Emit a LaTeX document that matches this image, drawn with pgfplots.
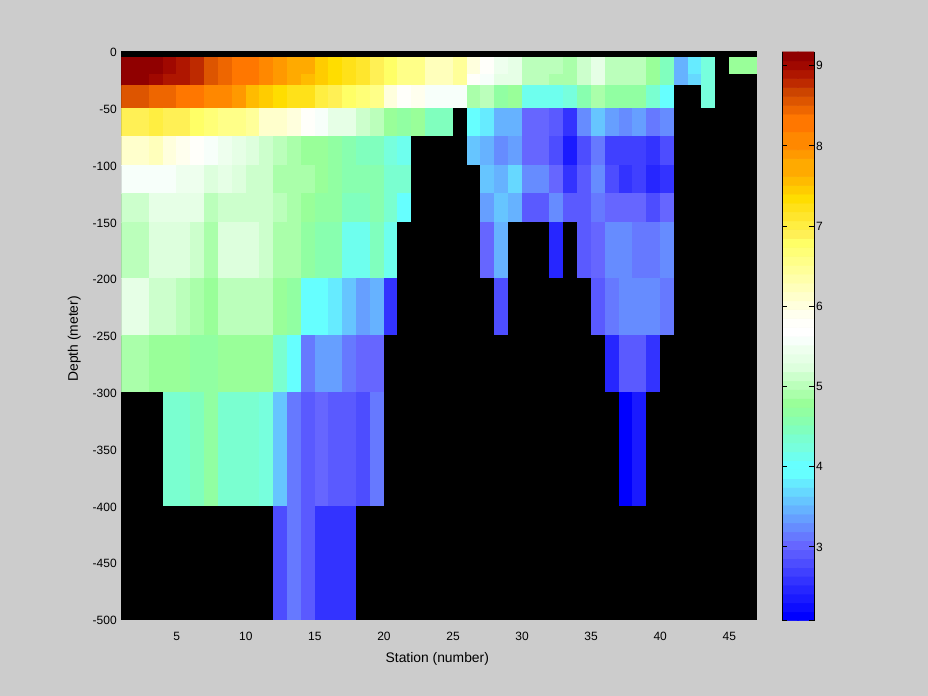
\documentclass[border=0pt]{standalone}
\usepackage{fontspec}
\setmainfont{Liberation Sans}
\usepackage{pgfplots}
\pgfplotsset{compat=1.18}
\pgfplotsset{
  colormap={tempmap}{
    rgb255=(0,0,0)
    rgb255=(0,0,255) rgb255=(13,13,255) rgb255=(26,26,255) rgb255=(38,38,255)
    rgb255=(51,51,255) rgb255=(64,64,255) rgb255=(77,77,255) rgb255=(90,90,255)
    rgb255=(102,102,255) rgb255=(102,121,255) rgb255=(102,140,255) rgb255=(102,159,255)
    rgb255=(102,178,255) rgb255=(102,197,255) rgb255=(102,216,255) rgb255=(102,235,255)
    rgb255=(102,255,255) rgb255=(102,255,255) rgb255=(110,255,238) rgb255=(119,255,221)
    rgb255=(122,255,208) rgb255=(128,255,190) rgb255=(136,255,175) rgb255=(145,255,162)
    rgb255=(153,255,153) rgb255=(170,255,170) rgb255=(187,255,187) rgb255=(204,255,204)
    rgb255=(221,255,221) rgb255=(230,255,230) rgb255=(238,255,238) rgb255=(247,255,250)
    rgb255=(255,255,255) rgb255=(255,255,250) rgb255=(255,255,238) rgb255=(255,255,221)
    rgb255=(255,255,204) rgb255=(255,255,187) rgb255=(255,255,170) rgb255=(255,255,153)
    rgb255=(255,255,136) rgb255=(255,255,119) rgb255=(255,255,102) rgb255=(255,240,85)
    rgb255=(255,238,65) rgb255=(255,230,45) rgb255=(255,225,25) rgb255=(255,221,0)
    rgb255=(255,204,0) rgb255=(255,187,0) rgb255=(255,170,0) rgb255=(255,170,0)
    rgb255=(255,153,0) rgb255=(255,136,0) rgb255=(255,136,0) rgb255=(255,119,0)
    rgb255=(255,119,0) rgb255=(238,102,0) rgb255=(221,85,0) rgb255=(204,68,0)
    rgb255=(190,42,0) rgb255=(175,22,0) rgb255=(160,8,0) rgb255=(144,0,0)
  }
}
\definecolor{figbg}{RGB}{204,204,204}
\begin{document}
\begin{tikzpicture}[x=1pt,y=1pt]
\fill[figbg] (0,0) rectangle (696,522);
\useasboundingbox (0,0) rectangle (696,522);
\begin{axis}[
  at={(91.1pt,57.4pt)}, anchor=south west, scale only axis,
  width=476.6pt, height=426pt,
  xmin=1, xmax=47, ymin=-500, ymax=0,
  xtick={5,10,...,45}, ytick={-500,-450,...,0},
  axis background/.style={fill=black},
  colormap name=tempmap, colormap access=piecewise constant,
  point meta min=1.9692, point meta max=9.17,
  tick align=inside, tick pos=left, major tick length=3pt,
  axis line style={line width=0.75pt}, tick style={line width=0.75pt},
  /pgf/number format/assume math mode=true,
  typeset ticklabels with strut,
  tick label style={font=\fontsize{9}{10}\selectfont, text=black},
  label style={font=\fontsize{10.4}{11}\selectfont},
  xlabel={Station (number)}, ylabel={Depth (meter)},
  xticklabel style={yshift=-5.5pt}, yticklabel style={yshift=-2pt},
  xlabel style={at={(axis description cs:0.497,0)},anchor=north,yshift=-21pt},
  ylabel style={at={(axis description cs:0,0.494)},anchor=south,yshift=27pt},
  clip=true,
]
\addplot[surf, shader=flat corner, mesh/cols=47, point meta=explicit] coordinates {
(1,-5)[9.11](2,-5)[9.11](3,-5)[9.11](4,-5)[9.00](5,-5)[8.89](6,-5)[8.78](7,-5)[8.56](8,-5)[8.45](9,-5)[8.34](10,-5)[8.22](11,-5)[8.11](12,-5)[7.89](13,-5)[7.78](14,-5)[7.67](15,-5)[7.45](16,-5)[7.34](17,-5)[7.23](18,-5)[7.12](19,-5)[6.90](20,-5)[6.79](21,-5)[6.56](22,-5)[6.56](23,-5)[6.23](24,-5)[6.23](25,-5)[6.45](26,-5)[6.01](27,-5)[5.79](28,-5)[5.46](29,-5)[5.35](30,-5)[5.01](31,-5)[5.01](32,-5)[5.01](33,-5)[4.90](34,-5)[5.12](35,-5)[5.35](36,-5)[5.01](37,-5)[5.01](38,-5)[5.01](39,-5)[4.79](40,-5)[4.46](41,-5)[3.46](42,-5)[3.80](43,-5)[4.24](44,-5)[2](45,-5)[4.79](46,-5)[4.79](47,-5)[2]
(1,-20)[9.11](2,-20)[9.11](3,-20)[9.00](4,-20)[8.89](5,-20)[8.89](6,-20)[8.78](7,-20)[8.56](8,-20)[8.45](9,-20)[8.34](10,-20)[8.22](11,-20)[8.11](12,-20)[7.89](13,-20)[7.78](14,-20)[7.56](15,-20)[7.45](16,-20)[7.34](17,-20)[7.23](18,-20)[7.12](19,-20)[6.90](20,-20)[6.79](21,-20)[6.56](22,-20)[6.56](23,-20)[6.23](24,-20)[6.23](25,-20)[6.45](26,-20)[5.79](27,-20)[5.57](28,-20)[5.35](29,-20)[5.35](30,-20)[5.01](31,-20)[5.01](32,-20)[4.90](33,-20)[4.90](34,-20)[5.12](35,-20)[5.35](36,-20)[5.01](37,-20)[5.01](38,-20)[5.01](39,-20)[4.79](40,-20)[4.46](41,-20)[3.46](42,-20)[3.69](43,-20)[4.24](44,-20)[2](45,-20)[2](46,-20)[2](47,-20)[2]
(1,-30)[8.56](2,-30)[8.56](3,-30)[8.45](4,-30)[8.45](5,-30)[8.34](6,-30)[8.22](7,-30)[8.11](8,-30)[8.00](9,-30)[7.89](10,-30)[7.56](11,-30)[7.45](12,-30)[7.34](13,-30)[7.23](14,-30)[7.23](15,-30)[7.01](16,-30)[6.90](17,-30)[6.79](18,-30)[6.67](19,-30)[6.56](20,-30)[6.01](21,-30)[5.79](22,-30)[5.90](23,-30)[5.57](24,-30)[5.57](25,-30)[5.57](26,-30)[4.90](27,-30)[5.01](28,-30)[4.68](29,-30)[4.79](30,-30)[4.13](31,-30)[4.13](32,-30)[4.13](33,-30)[4.24](34,-30)[4.57](35,-30)[4.90](36,-30)[4.68](37,-30)[4.68](38,-30)[4.68](39,-30)[4.35](40,-30)[4.02](41,-30)[2](42,-30)[2](43,-30)[4.24](44,-30)[2](45,-30)[2](46,-30)[2](47,-30)[2]
(1,-50)[6.90](2,-50)[6.90](3,-50)[7.01](4,-50)[6.90](5,-50)[6.90](6,-50)[6.79](7,-50)[6.67](8,-50)[6.56](9,-50)[6.56](10,-50)[6.45](11,-50)[6.12](12,-50)[6.12](13,-50)[6.01](14,-50)[5.79](15,-50)[5.57](16,-50)[5.35](17,-50)[5.35](18,-50)[5.12](19,-50)[5.01](20,-50)[4.79](21,-50)[4.68](22,-50)[4.79](23,-50)[4.46](24,-50)[4.46](25,-50)[2](26,-50)[4.02](27,-50)[3.80](28,-50)[3.46](29,-50)[3.46](30,-50)[3.02](31,-50)[3.02](32,-50)[2.91](33,-50)[2.58](34,-50)[3.24](35,-50)[3.57](36,-50)[3.35](37,-50)[3.24](38,-50)[3.35](39,-50)[3.13](40,-50)[3.24](41,-50)[2](42,-50)[2](43,-50)[2](44,-50)[2](45,-50)[2](46,-50)[2](47,-50)[2]
(1,-75)[6.12](2,-75)[6.12](3,-75)[6.23](4,-75)[6.01](5,-75)[5.90](6,-75)[5.79](7,-75)[5.57](8,-75)[5.46](9,-75)[5.35](10,-75)[5.24](11,-75)[5.12](12,-75)[5.01](13,-75)[4.90](14,-75)[4.79](15,-75)[4.79](16,-75)[4.68](17,-75)[4.57](18,-75)[4.46](19,-75)[4.46](20,-75)[4.24](21,-75)[4.13](22,-75)[2](23,-75)[2](24,-75)[2](25,-75)[2](26,-75)[3.57](27,-75)[3.46](28,-75)[3.24](29,-75)[3.35](30,-75)[3.02](31,-75)[3.02](32,-75)[2.80](33,-75)[2.36](34,-75)[2.80](35,-75)[3.13](36,-75)[2.69](37,-75)[2.69](38,-75)[2.69](39,-75)[2.58](40,-75)[2.80](41,-75)[2](42,-75)[2](43,-75)[2](44,-75)[2](45,-75)[2](46,-75)[2](47,-75)[2]
(1,-100)[5.57](2,-100)[5.57](3,-100)[5.57](4,-100)[5.57](5,-100)[5.46](6,-100)[5.46](7,-100)[5.24](8,-100)[5.35](9,-100)[5.24](10,-100)[5.12](11,-100)[5.12](12,-100)[4.90](13,-100)[4.90](14,-100)[4.90](15,-100)[4.79](16,-100)[4.68](17,-100)[4.57](18,-100)[4.57](19,-100)[4.57](20,-100)[4.35](21,-100)[4.35](22,-100)[2](23,-100)[2](24,-100)[2](25,-100)[2](26,-100)[2](27,-100)[3.57](28,-100)[3.46](29,-100)[3.69](30,-100)[3.24](31,-100)[3.24](32,-100)[3.02](33,-100)[2.58](34,-100)[2.91](35,-100)[3.24](36,-100)[2.80](37,-100)[2.58](38,-100)[2.69](39,-100)[2.47](40,-100)[2.58](41,-100)[2](42,-100)[2](43,-100)[2](44,-100)[2](45,-100)[2](46,-100)[2](47,-100)[2]
(1,-125)[5.12](2,-125)[5.12](3,-125)[5.35](4,-125)[5.35](5,-125)[5.35](6,-125)[5.35](7,-125)[5.01](8,-125)[5.12](9,-125)[5.12](10,-125)[5.12](11,-125)[5.12](12,-125)[5.01](13,-125)[4.90](14,-125)[4.79](15,-125)[4.68](16,-125)[4.68](17,-125)[4.46](18,-125)[4.46](19,-125)[4.57](20,-125)[4.35](21,-125)[4.02](22,-125)[2](23,-125)[2](24,-125)[2](25,-125)[2](26,-125)[2](27,-125)[3.35](28,-125)[3.57](29,-125)[3.46](30,-125)[2.91](31,-125)[2.91](32,-125)[3.24](33,-125)[2.91](34,-125)[2.91](35,-125)[3.13](36,-125)[3.02](37,-125)[3.02](38,-125)[3.02](39,-125)[2.80](40,-125)[3.02](41,-125)[2](42,-125)[2](43,-125)[2](44,-125)[2](45,-125)[2](46,-125)[2](47,-125)[2]
(1,-150)[5.01](2,-150)[5.01](3,-150)[5.24](4,-150)[5.24](5,-150)[5.24](6,-150)[5.12](7,-150)[4.90](8,-150)[5.24](9,-150)[5.24](10,-150)[5.24](11,-150)[5.12](12,-150)[4.90](13,-150)[4.90](14,-150)[4.68](15,-150)[4.57](16,-150)[4.57](17,-150)[4.13](18,-150)[4.13](19,-150)[4.46](20,-150)[4.13](21,-150)[2](22,-150)[2](23,-150)[2](24,-150)[2](25,-150)[2](26,-150)[2](27,-150)[3.02](28,-150)[3.46](29,-150)[2](30,-150)[2](31,-150)[2](32,-150)[2.47](33,-150)[2](34,-150)[2.91](35,-150)[3.02](36,-150)[3.24](37,-150)[3.24](38,-150)[3.13](39,-150)[3.13](40,-150)[3.24](41,-150)[2](42,-150)[2](43,-150)[2](44,-150)[2](45,-150)[2](46,-150)[2](47,-150)[2]
(1,-200)[5.35](2,-200)[5.35](3,-200)[5.12](4,-200)[5.12](5,-200)[5.01](6,-200)[4.90](7,-200)[4.79](8,-200)[5.01](9,-200)[5.01](10,-200)[5.01](11,-200)[5.01](12,-200)[4.79](13,-200)[4.68](14,-200)[4.02](15,-200)[4.02](16,-200)[3.80](17,-200)[3.57](18,-200)[3.35](19,-200)[3.46](20,-200)[2.58](21,-200)[2](22,-200)[2](23,-200)[2](24,-200)[2](25,-200)[2](26,-200)[2](27,-200)[2](28,-200)[2.80](29,-200)[2](30,-200)[2](31,-200)[2](32,-200)[2](33,-200)[2](34,-200)[2](35,-200)[2.91](36,-200)[3.13](37,-200)[3.24](38,-200)[3.24](39,-200)[3.24](40,-200)[3.13](41,-200)[2](42,-200)[2](43,-200)[2](44,-200)[2](45,-200)[2](46,-200)[2](47,-200)[2]
(1,-250)[4.90](2,-250)[4.90](3,-250)[4.79](4,-250)[4.79](5,-250)[4.79](6,-250)[4.68](7,-250)[4.68](8,-250)[4.79](9,-250)[4.79](10,-250)[4.79](11,-250)[4.79](12,-250)[4.35](13,-250)[4.02](14,-250)[3.13](15,-250)[3.35](16,-250)[3.35](17,-250)[3.13](18,-250)[3.02](19,-250)[3.02](20,-250)[2](21,-250)[2](22,-250)[2](23,-250)[2](24,-250)[2](25,-250)[2](26,-250)[2](27,-250)[2](28,-250)[2](29,-250)[2](30,-250)[2](31,-250)[2](32,-250)[2](33,-250)[2](34,-250)[2](35,-250)[2](36,-250)[2.47](37,-250)[2.91](38,-250)[2.91](39,-250)[2.58](40,-250)[2](41,-250)[2](42,-250)[2](43,-250)[2](44,-250)[2](45,-250)[2](46,-250)[2](47,-250)[2]
(1,-300)[2](2,-300)[2](3,-300)[2](4,-300)[4.35](5,-300)[4.35](6,-300)[4.46](7,-300)[4.68](8,-300)[4.35](9,-300)[4.35](10,-300)[4.35](11,-300)[4.24](12,-300)[3.57](13,-300)[3.13](14,-300)[2.91](15,-300)[3.02](16,-300)[2.91](17,-300)[2.91](18,-300)[2.80](19,-300)[3.13](20,-300)[2](21,-300)[2](22,-300)[2](23,-300)[2](24,-300)[2](25,-300)[2](26,-300)[2](27,-300)[2](28,-300)[2](29,-300)[2](30,-300)[2](31,-300)[2](32,-300)[2](33,-300)[2](34,-300)[2](35,-300)[2](36,-300)[2](37,-300)[2.14](38,-300)[2.36](39,-300)[2](40,-300)[2](41,-300)[2](42,-300)[2](43,-300)[2](44,-300)[2](45,-300)[2](46,-300)[2](47,-300)[2]
(1,-400)[2](2,-400)[2](3,-400)[2](4,-400)[2](5,-400)[2](6,-400)[2](7,-400)[2](8,-400)[2](9,-400)[2](10,-400)[2](11,-400)[2](12,-400)[2.80](13,-400)[3.13](14,-400)[2.91](15,-400)[2.58](16,-400)[2.58](17,-400)[2.58](18,-400)[2](19,-400)[2](20,-400)[2](21,-400)[2](22,-400)[2](23,-400)[2](24,-400)[2](25,-400)[2](26,-400)[2](27,-400)[2](28,-400)[2](29,-400)[2](30,-400)[2](31,-400)[2](32,-400)[2](33,-400)[2](34,-400)[2](35,-400)[2](36,-400)[2](37,-400)[2](38,-400)[2](39,-400)[2](40,-400)[2](41,-400)[2](42,-400)[2](43,-400)[2](44,-400)[2](45,-400)[2](46,-400)[2](47,-400)[2]
(1,-500)[2](2,-500)[2](3,-500)[2](4,-500)[2](5,-500)[2](6,-500)[2](7,-500)[2](8,-500)[2](9,-500)[2](10,-500)[2](11,-500)[2](12,-500)[2](13,-500)[2](14,-500)[2](15,-500)[2](16,-500)[2](17,-500)[2](18,-500)[2](19,-500)[2](20,-500)[2](21,-500)[2](22,-500)[2](23,-500)[2](24,-500)[2](25,-500)[2](26,-500)[2](27,-500)[2](28,-500)[2](29,-500)[2](30,-500)[2](31,-500)[2](32,-500)[2](33,-500)[2](34,-500)[2](35,-500)[2](36,-500)[2](37,-500)[2](38,-500)[2](39,-500)[2](40,-500)[2](41,-500)[2](42,-500)[2](43,-500)[2](44,-500)[2](45,-500)[2](46,-500)[2](47,-500)[2]
};
\end{axis}
\begin{axis}[
  at={(586.5pt,56.5pt)}, anchor=south west, scale only axis,
  width=24pt, height=426.5pt,
  xmin=-0.5, xmax=1.5, ymin=0, ymax=64,
  xtick=\empty,
  ytick={0,8.30,17.33,26.35,35.38,44.40,53.43,62.45},
  yticklabels={,3,4,5,6,7,8,9},
  colormap name=tempmap, colormap access=piecewise constant,
  point meta min=-1, point meta max=64,
  tick align=inside, major tick length=3.4pt,
  ytick pos=both, yticklabel pos=right,
  separate axis lines, x axis line style={draw=none},
  y axis line style={line width=0.75pt}, tick style={line width=0.75pt, black},
  tick label style={font=\fontsize{9}{10}\selectfont, text=black},
  yticklabel style={xshift=-2pt},
  axis on top, clip=true,
]
\addplot[matrix plot*, mesh/cols=2, point meta=y] coordinates {
(0,0.5)(1,0.5)(0,1.5)(1,1.5)(0,2.5)(1,2.5)(0,3.5)(1,3.5)(0,4.5)(1,4.5)(0,5.5)(1,5.5)(0,6.5)(1,6.5)(0,7.5)(1,7.5)
(0,8.5)(1,8.5)(0,9.5)(1,9.5)(0,10.5)(1,10.5)(0,11.5)(1,11.5)(0,12.5)(1,12.5)(0,13.5)(1,13.5)(0,14.5)(1,14.5)(0,15.5)(1,15.5)
(0,16.5)(1,16.5)(0,17.5)(1,17.5)(0,18.5)(1,18.5)(0,19.5)(1,19.5)(0,20.5)(1,20.5)(0,21.5)(1,21.5)(0,22.5)(1,22.5)(0,23.5)(1,23.5)
(0,24.5)(1,24.5)(0,25.5)(1,25.5)(0,26.5)(1,26.5)(0,27.5)(1,27.5)(0,28.5)(1,28.5)(0,29.5)(1,29.5)(0,30.5)(1,30.5)(0,31.5)(1,31.5)
(0,32.5)(1,32.5)(0,33.5)(1,33.5)(0,34.5)(1,34.5)(0,35.5)(1,35.5)(0,36.5)(1,36.5)(0,37.5)(1,37.5)(0,38.5)(1,38.5)(0,39.5)(1,39.5)
(0,40.5)(1,40.5)(0,41.5)(1,41.5)(0,42.5)(1,42.5)(0,43.5)(1,43.5)(0,44.5)(1,44.5)(0,45.5)(1,45.5)(0,46.5)(1,46.5)(0,47.5)(1,47.5)
(0,48.5)(1,48.5)(0,49.5)(1,49.5)(0,50.5)(1,50.5)(0,51.5)(1,51.5)(0,52.5)(1,52.5)(0,53.5)(1,53.5)(0,54.5)(1,54.5)(0,55.5)(1,55.5)
(0,56.5)(1,56.5)(0,57.5)(1,57.5)(0,58.5)(1,58.5)(0,59.5)(1,59.5)(0,60.5)(1,60.5)(0,61.5)(1,61.5)(0,62.5)(1,62.5)(0,63.5)(1,63.5)
};
\end{axis}
\end{tikzpicture}
\end{document}
